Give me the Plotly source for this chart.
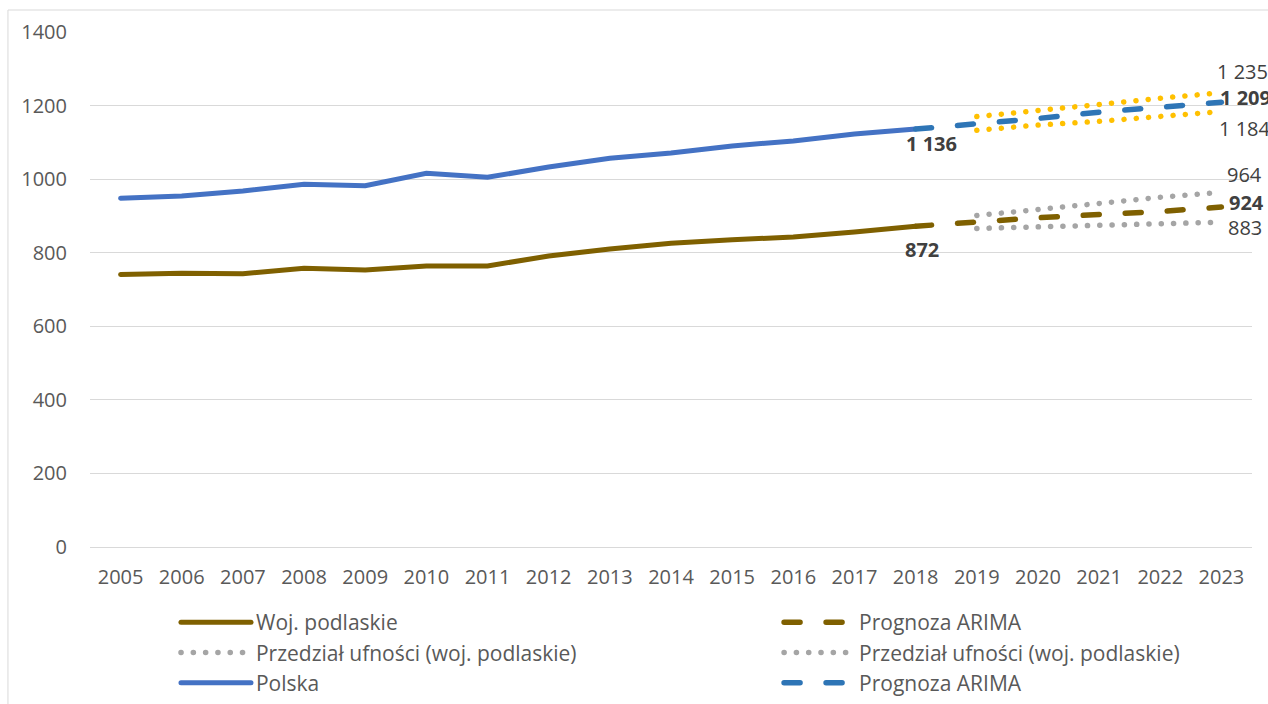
import plotly.graph_objects as go

years_hist = list(range(2005, 2019))
years_fc = list(range(2018, 2024))
years_ci = list(range(2019, 2024))

podlaskie = [741, 744, 743, 758, 753, 764, 764, 791, 810, 826, 835, 843, 856, 872]
polska = [948, 954, 968, 986, 982, 1016, 1005, 1033, 1057, 1071, 1090, 1104, 1123, 1136]

podlaskie_fc = [872, 884, 895, 904, 912, 924]
podlaskie_lo = [866, 871, 875, 880, 883]
podlaskie_hi = [901, 919, 934, 951, 964]

polska_fc = [1136, 1150, 1165, 1182, 1197, 1209]
polska_lo = [1133, 1147, 1157, 1170, 1184]
polska_hi = [1170, 1185, 1203, 1220, 1235]

BROWN = "#7F6000"
BLUE = "#4472C4"
BLUE_FC = "#2E75B6"
GREY = "#A5A5A5"
YELLOW = "#FFC000"
FONT = "Open Sans"
DOT = "0.1px,12.2px"
DASH = "16px,26px"

def fmt(v):
    return f"{v:,}".replace(",", " ")

fig = go.Figure()

fig.add_trace(go.Scatter(x=years_ci, y=polska_hi, mode="lines", showlegend=False,
                         line=dict(color=YELLOW, width=5.5, dash=DOT)))
fig.add_trace(go.Scatter(x=years_ci, y=polska_lo, mode="lines", showlegend=False,
                         line=dict(color=YELLOW, width=5.5, dash=DOT)))

fig.add_trace(go.Scatter(x=years_hist, y=podlaskie, mode="lines", name="Woj. podlaskie",
                         line=dict(color=BROWN, width=5), legend="legend", legendrank=1))
fig.add_trace(go.Scatter(x=years_ci, y=podlaskie_lo, mode="lines",
                         name="Przedział ufności (woj. podlaskie)",
                         line=dict(color=GREY, width=5.5, dash=DOT), legend="legend", legendrank=2))
fig.add_trace(go.Scatter(x=years_ci, y=podlaskie_hi, mode="lines",
                         name="Przedział ufności (woj. podlaskie)",
                         line=dict(color=GREY, width=5.5, dash=DOT), legend="legend2", legendrank=2))
fig.add_trace(go.Scatter(x=years_hist, y=polska, mode="lines", name="Polska",
                         line=dict(color=BLUE, width=5), legend="legend", legendrank=3))
fig.add_trace(go.Scatter(x=years_fc, y=podlaskie_fc, mode="lines", name="Prognoza ARIMA",
                         line=dict(color=BROWN, width=5.5, dash=DASH), legend="legend2", legendrank=1))
fig.add_trace(go.Scatter(x=years_fc, y=polska_fc, mode="lines", name="Prognoza ARIMA",
                         line=dict(color=BLUE_FC, width=5.5, dash=DASH), legend="legend2", legendrank=3))

lab_font = dict(family=FONT, size=20, color="#404040")
labels = [
    (2018, polska[-1], "<b>%s</b>" % fmt(polska[-1]), "center", 16, -14),
    (2018, podlaskie[-1], "<b>%s</b>" % fmt(podlaskie[-1]), "center", 6, -23),
    (2023, polska_hi[-1], fmt(polska_hi[-1]), "left", -6, 21),
    (2023, polska_fc[-1], "<b>%s</b>" % fmt(polska_fc[-1]), "left", -3, 5),
    (2023, polska_lo[-1], fmt(polska_lo[-1]), "left", -4, -17),
    (2023, podlaskie_hi[-1], fmt(podlaskie_hi[-1]), "left", 4, 18),
    (2023, podlaskie_fc[-1], "<b>%s</b>" % fmt(podlaskie_fc[-1]), "left", 6, 5),
    (2023, podlaskie_lo[-1], fmt(podlaskie_lo[-1]), "left", 5, -5),
]
for x, y, t, xa, dx, dy in labels:
    fig.add_annotation(x=x, y=y, text=t, showarrow=False, xanchor=xa, yanchor="middle",
                       xshift=dx, yshift=dy, font=lab_font)

# chart border
fig.add_shape(type="rect", xref="paper", yref="paper", x0=-0.0706, x1=1.03, y0=-0.35, y1=1.0427,
              line=dict(color="#D9D9D9", width=1), fillcolor="rgba(0,0,0,0)", layer="below")

fig.update_layout(
    width=1268, height=704,
    margin=dict(l=90, r=16, t=32, b=157, autoexpand=False),
    paper_bgcolor="white", plot_bgcolor="white",
    font=dict(family=FONT, size=20, color="#595959"),
    xaxis=dict(range=[2004.5, 2023.5], dtick=1, tick0=2005, showgrid=False,
               showline=True, linecolor="#D9D9D9", linewidth=1, ticks="",
               ticklabelstandoff=12, tickfont=dict(size=20, color="#595959"), fixedrange=True),
    yaxis=dict(range=[0, 1400], dtick=200, showgrid=True, gridcolor="#D9D9D9", gridwidth=1,
               zeroline=False, ticks="", ticklabelstandoff=22,
               tickfont=dict(size=20, color="#595959")),
    legend=dict(x=0.074, y=-0.107, xanchor="left", yanchor="top", itemwidth=70,
                font=dict(size=21, color="#595959"), bgcolor="rgba(0,0,0,0)"),
    legend2=dict(x=0.593, y=-0.107, xanchor="left", yanchor="top", itemwidth=70,
                 font=dict(size=21, color="#595959"), bgcolor="rgba(0,0,0,0)"),
)

post = """
document.body.style.margin = '0';
document.querySelectorAll('path.js-line').forEach(function(p){p.style.strokeLinecap='round';});
"""
fig.write_html("out.html", post_script=post, config={"displayModeBar": False})
